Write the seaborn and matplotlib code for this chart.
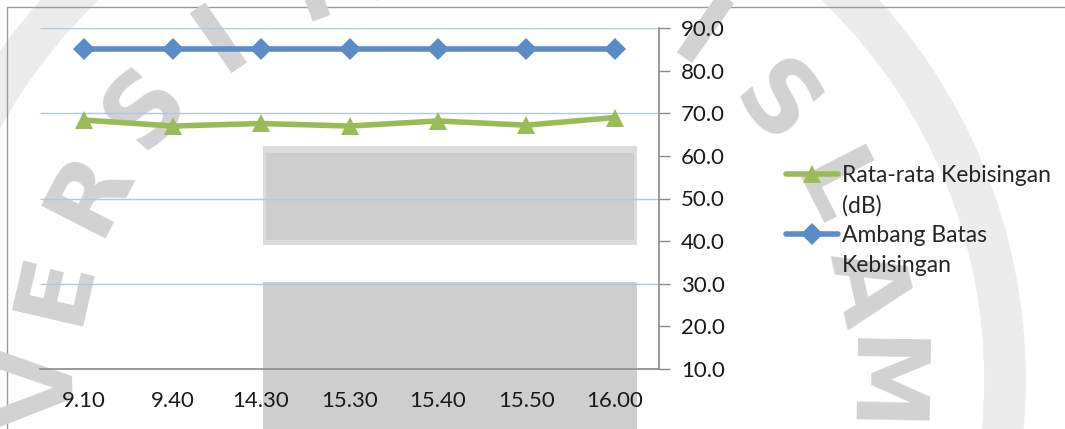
import numpy as np
import pandas as pd
import matplotlib
matplotlib.use("Agg")
import matplotlib.pyplot as plt
from matplotlib.patches import Rectangle, Circle
from matplotlib.lines import Line2D
import seaborn as sns

# Measurement times (hour.minute)
waktu = ["9.10", "9.40", "14.30", "15.30", "15.40", "15.50", "16.00"]
# Average measured noise level (dB)
rata_rata = [68.4, 67.0, 67.6, 67.0, 68.2, 67.2, 69.0]
# Noise threshold (dB)
ambang = [85, 85, 85, 85, 85, 85, 85]

label_rata = ["Rata-rata Kebisingan", "(dB)"]
label_ambang = ["Ambang Batas", "Kebisingan"]

y_ticks = [10, 20, 30, 40, 50, 60, 70, 80, 90]
grid_levels = [30, 50, 70, 90]

stamp_text = "UNIVERSITAS ISLAM INDONESIA"

sns.set_theme(style="white")
plt.rcParams["font.family"] = ["Lato", "DejaVu Sans"]

df = pd.DataFrame({"waktu": waktu, "rata": rata_rata, "ambang": ambang})

W, H = 1065, 429
fig = plt.figure(figsize=(W / 100, H / 100), dpi=100)
fig.patch.set_facecolor("white")

# page background layer in pixel units
bg = fig.add_axes([0, 0, 1, 1], zorder=-5)
bg.set_xlim(0, W)
bg.set_ylim(H, 0)
bg.axis("off")

# circular stamp behind the chart (only the letters that land on the page)
cx, cy, r = 460, 380, 415
bg.add_patch(Circle((cx, cy), 545, fill=False, edgecolor="#ececec", lw=30))
for i, ch in enumerate(stamp_text):
    if ch == " ":
        continue
    ang = 223 - 14 * i
    a = np.deg2rad(ang)
    px, py = cx + r * np.cos(a), cy - r * np.sin(a)
    if not (-40 <= px <= W + 40 and -40 <= py <= H + 20):
        continue
    bg.text(px, py, ch, fontsize=72, fontweight="bold", family="DejaVu Sans",
            color="#d2d2d2", ha="center", va="center",
            rotation=ang - 90, rotation_mode="anchor")

# chart frame edge (top and left)
bg.plot([7, 7, W], [H, 7, 7], color="#9a9a9a", lw=1.0)

# grey blocks on the page
for (x0, y0, x1, y1, c) in [(263, 146, 637, 245, "#dcdcdc"),
                            (266, 153, 634, 240, "#cecece"),
                            (263, 282, 637, 429, "#cecece")]:
    bg.add_patch(Rectangle((x0, y0), x1 - x0, y1 - y0, facecolor=c, edgecolor="none"))

ax = fig.add_axes([40 / W, 1 - 369 / H, (659 - 40) / W, (369 - 28) / H])
ax.patch.set_alpha(0)

ax.hlines(grid_levels, -0.5, 6.5, colors="#b4c7e0", lw=1.0, zorder=1)

sns.lineplot(data=df, x="waktu", y="ambang", ax=ax, color="#5b8cc8", lw=4,
             marker="D", markersize=11, markeredgewidth=0, sort=False,
             legend=False, zorder=3)
sns.lineplot(data=df, x="waktu", y="rata", ax=ax, color="#9bbb59", lw=4,
             marker="^", markersize=13, markeredgewidth=0, sort=False,
             legend=False, zorder=4)

ax.set_xlim(-0.5, 6.5)
ax.set_ylim(10, 90)
ax.set_yticks(y_ticks)
ax.set_yticklabels([f"{v:.1f}" for v in y_ticks])
ax.yaxis.tick_right()
ax.set_xticks(range(len(waktu)))
ax.set_xticklabels(waktu)
ax.set_xticks(np.arange(-0.5, len(waktu), 1), minor=True)
ax.tick_params(axis="x", which="major", length=0, pad=16, labelsize=16, colors="#1a1a1a")
ax.tick_params(axis="x", which="minor", length=8, width=1, color="#8a8a8a", direction="out")
ax.tick_params(axis="y", which="major", length=8, width=1, color="#8a8a8a",
               direction="out", pad=8, labelsize=16, labelcolor="#1a1a1a", right=True, left=False)
ax.set_xlabel("")
ax.set_ylabel("")
for s in ["top", "left"]:
    ax.spines[s].set_visible(False)
for s in ["bottom", "right"]:
    ax.spines[s].set_color("#8a8a8a")
    ax.spines[s].set_linewidth(1.2)

# legend: symbol beside the first line of each label
line_r, line_a = ax.get_lines()[1], ax.get_lines()[0]
blank = Line2D([], [], color="none")
handles = [line_r, blank, line_a, blank]
labels = [label_rata[0], label_rata[1], label_ambang[0], label_ambang[1]]
ax.legend(handles, labels, loc="upper left",
          bbox_to_anchor=((786 - 40) / (659 - 40), (369 - 165) / (369 - 28)),
          frameon=False, fontsize=16.5, handlelength=2.27, handletextpad=0.18,
          labelspacing=0.39, borderaxespad=0, borderpad=0)

fig.savefig("out.png", dpi=100)
